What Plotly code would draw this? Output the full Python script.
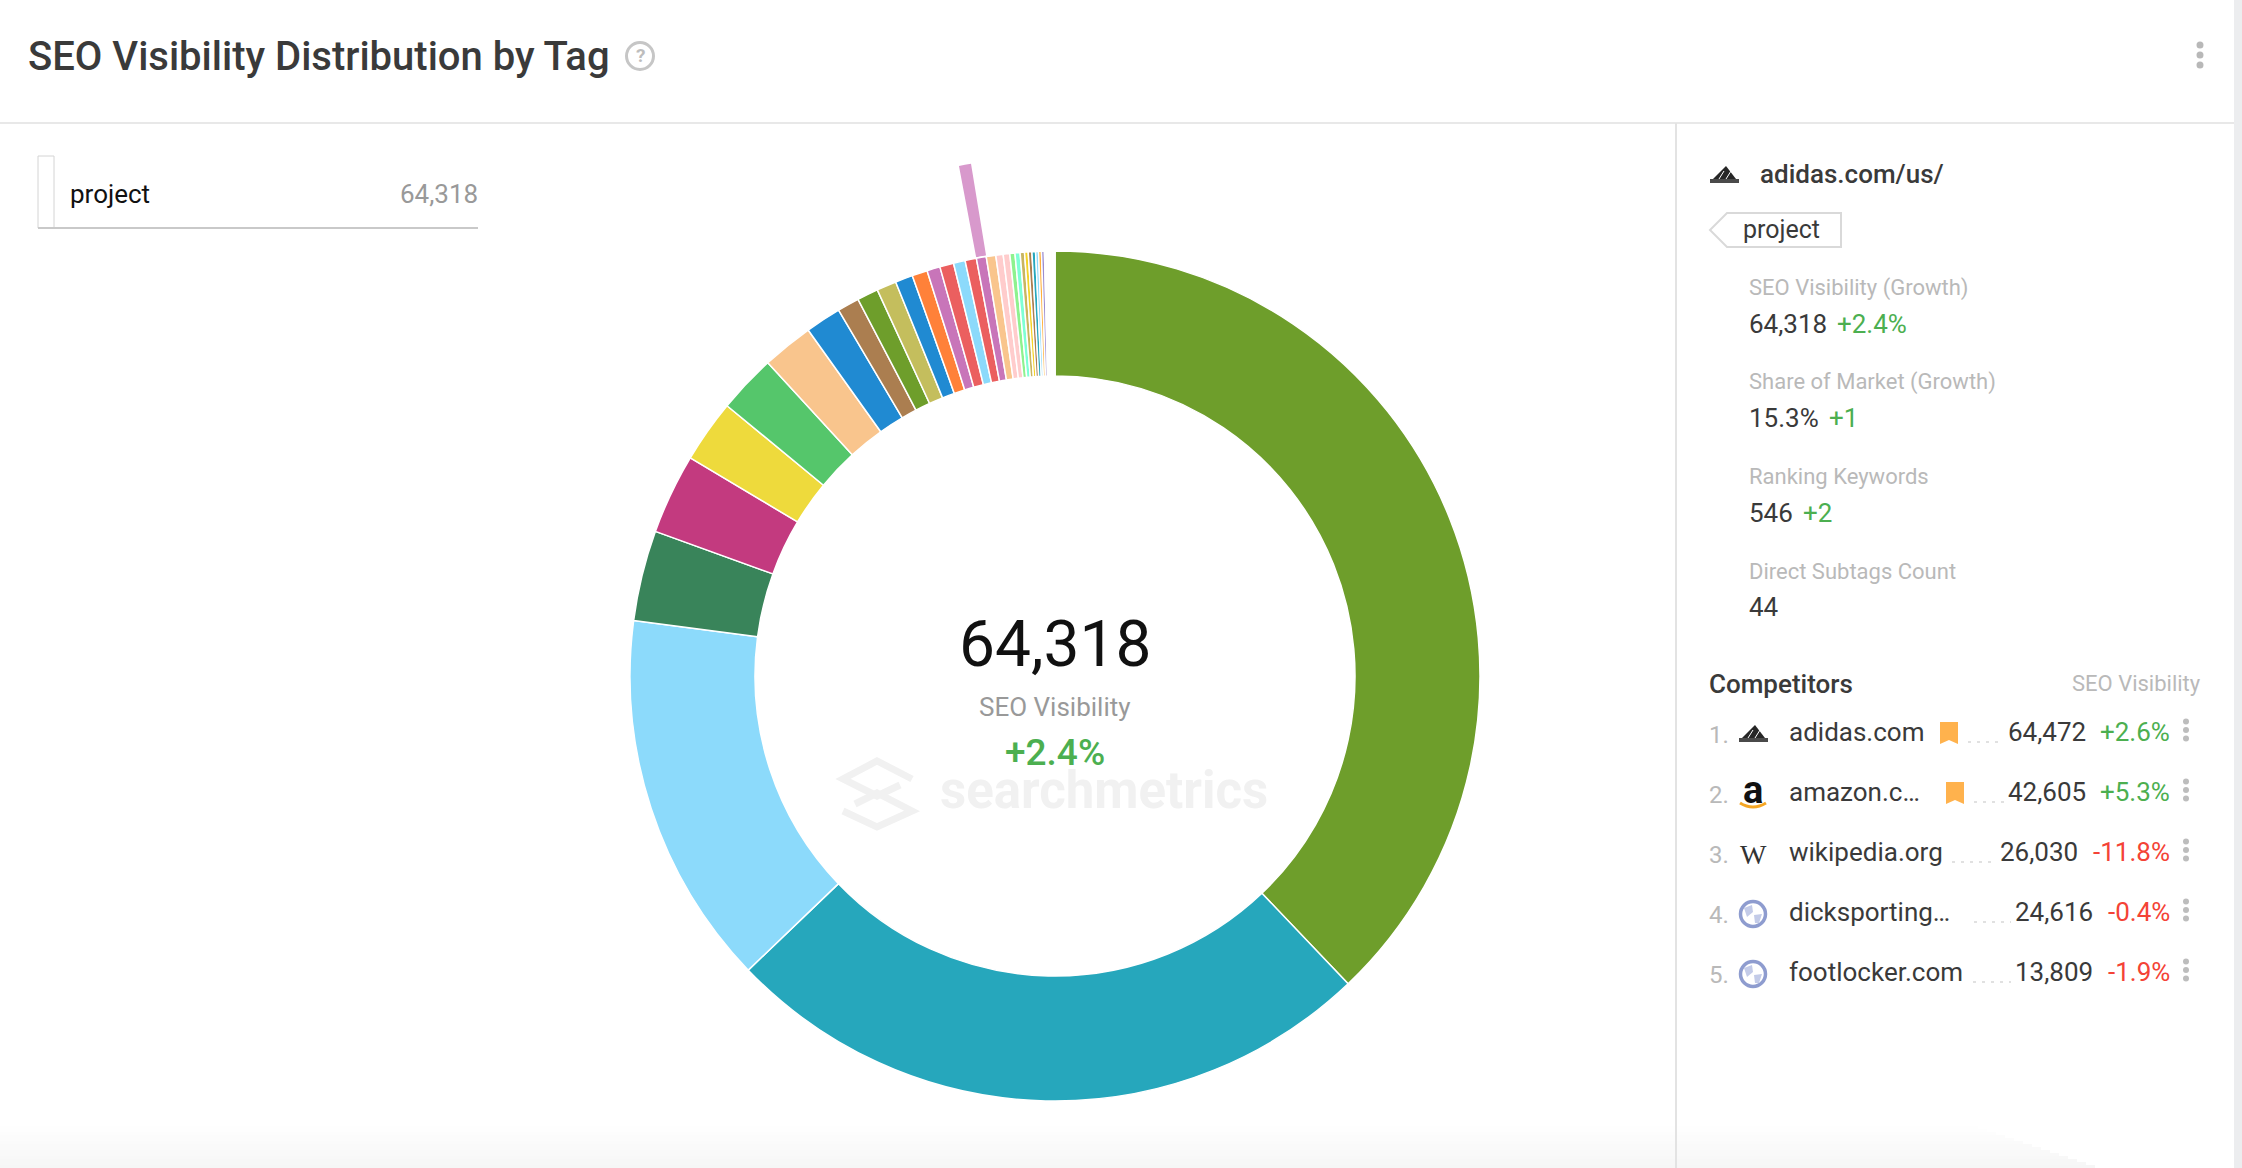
import plotly.graph_objects as go

W = 2242
H = 1168
# the figure runs a little past the window so the hover bar's pie fits its domain
FIG_H = 1200

# slices of the donut, clockwise from 12 o'clock
tag_values = [24369, 16044, 9165, 2215, 1965, 1536, 1429, 1251, 875, 536, 518, 482,
              429, 375, 322, 339, 286, 277, 241, 232, 179, 161, 125, 125, 107, 89,
              89, 89, 71, 71, 71, 36, 30, 28, 25, 22, 20, 18, 16, 15, 14, 12, 10, 9]
tag_colors = ["#6E9E2B", "#26A7BC", "#8CDAFB", "#39845A", "#C33A7F", "#EEDA3C",
              "#55C66B", "#F9C58D", "#208AD2", "#AB7E50", "#6E9E2B", "#C4BE5D",
              "#208AD2", "#FF8139", "#C875B9", "#EB5F5F", "#8CDAFB", "#EB5F5F",
              "#C875B9", "#F9C58D", "#FFCCCC", "#FFCCCC", "#8EF28E", "#7FFFD4",
              "#C8B560", "#F5D327", "#AB7E50", "#26A7BC", "#8CDAFB", "#FFB03B",
              "#9C8CCF", "#C4BE5D", "#EEDA3C", "#55C66B", "#F9C58D", "#208AD2",
              "#AB7E50", "#6E9E2B", "#FF8139", "#C875B9", "#EB5F5F", "#8CDAFB",
              "#FFCCCC", "#8EF28E"]
hover_index = 18
hover_color = "#D899CC"

stat_labels = ["SEO Visibility (Growth)", "Share of Market (Growth)", "Ranking Keywords", "Direct Subtags Count"]
stat_values = ["64,318", "15.3%", "546", "44"]
stat_growth = ["+2.4%", "+1", "+2", ""]

ranks = ["1.", "2.", "3.", "4.", "5."]
domains = ["adidas.com", "amazon.c…", "wikipedia.org", "dicksporting…", "footlocker.com"]
visibility = ["64,472", "42,605", "26,030", "24,616", "13,809"]
changes = ["+2.6%", "+5.3%", "-11.8%", "-0.4%", "-1.9%"]

DARK = "#3a3a3a"
GREY = "#b9b9b9"
GREEN = "#4caf50"
RED = "#f44336"
FONT = "Roboto"


def px(x):
    return x / W


def py(y):
    return 1 - y / FIG_H


def path(points, close=False):
    s = "M " + " L ".join(f"{px(x):.5f},{py(y):.5f}" for x, y in points)
    return s + (" Z" if close else "")


annotations = []
shapes = []


def text(x, y, s, size, color, anchor="left", weight=400, family=FONT):
    annotations.append(dict(x=px(x), y=py(y), xref="paper", yref="paper", text=s, showarrow=False,
                            xanchor=anchor, yanchor="middle", borderpad=0, borderwidth=0,
                            font=dict(family=family, size=size, color=color, weight=weight)))


def rect(x0, y0, x1, y1, fill, line=None, lw=0, layer="above"):
    shapes.append(dict(type="rect", xref="paper", yref="paper", x0=px(x0), x1=px(x1), y0=py(y1), y1=py(y0),
                       fillcolor=fill, line=dict(color=line or fill, width=lw), layer=layer))


def line(x0, y0, x1, y1, color, lw=2, dash="solid"):
    shapes.append(dict(type="line", xref="paper", yref="paper", x0=px(x0), x1=px(x1), y0=py(y0), y1=py(y1),
                       line=dict(color=color, width=lw, dash=dash)))


def poly(points, fill="rgba(0,0,0,0)", color=None, lw=0, close=True):
    shapes.append(dict(type="path", xref="paper", yref="paper", path=path(points, close),
                       fillcolor=fill, line=dict(color=color or fill, width=lw)))


def circle(cx, cy, r, fill, color=None, lw=0):
    shapes.append(dict(type="circle", xref="paper", yref="paper", x0=px(cx - r), x1=px(cx + r),
                       y0=py(cy + r), y1=py(cy - r), fillcolor=fill, line=dict(color=color or fill, width=lw)))


def kebab(x, y, r, gap, color):
    for d in (-gap, 0, gap):
        circle(x, y + d, r, color)


def adidas_logo(x, y):
    poly([(x + 3, y + 13), (x + 16, y), (x + 26, y + 13)], fill="#262626")
    line(x + 9, y + 13, x + 14, y + 5, "#ffffff", 1)
    line(x + 16, y + 13, x + 21, y + 5, "#ffffff", 1)
    line(x, y + 15, x + 29, y + 15, "#4a4a4a", 4)


def globe(cx, cy):
    circle(cx, cy, 12.5, "#ffffff", "#8e9ccf", 3.5)
    poly([(cx - 9, cy - 6), (cx - 1, cy - 9), (cx, cy - 2), (cx - 6, cy + 3)], fill="#c3cbe8")
    poly([(cx + 1, cy + 1), (cx + 9, cy), (cx + 6, cy + 9), (cx + 2, cy + 9)], fill="#c3cbe8")


# page furniture
for i in range(16):
    grey = 255 - i * 10 // 16
    rect(0, 1120 + i * 3, 1960 + i * 9, 1123 + i * 3, f"rgb({grey},{grey},{grey})", layer="below")
rect(2234, 0, W, FIG_H, "#ecedef", layer="below")
line(0, 123, 2234, 123, "#e8e8e8", 2)
line(1676, 123, 1676, FIG_H, "#e3e3e3", 2)

text(28, 57, "SEO Visibility Distribution by Tag", 40, DARK, weight=500)
circle(640, 56, 13.5, "#ffffff", "#c6c6c6", 3)
text(640, 56, "?", 19, "#bdbdbd", "center", 700)
kebab(2200, 55, 3.5, 10, "#b8b8b8")

# tag list on the left
rect(38, 156, 54, 228, "#ffffff", "#d4d4d4", 1)
line(38, 228, 478, 228, "#c9c9c9", 2)
text(70, 194, "project", 26, "#111111")
text(478, 194, "64,318", 26, "#999999", "right")

# centre of the donut
text(1055, 644, "64,318", 64, "#111111", "center")
text(1055, 707, "SEO Visibility", 26, "#999999", "center")
text(1055, 753, "+2.4%", 37, GREEN, "center", 500)
text(940, 790, "searchmetrics", 51, "#f1f1f1", weight=700)
poly([(912, 779), (877, 761), (843, 779), (877, 796), (900, 785)], color="#f1f1f1", lw=7, close=False)
poly([(843, 811), (877, 827), (912, 811), (877, 793), (855, 804)], color="#f1f1f1", lw=7, close=False)

# right panel
adidas_logo(1710, 166)
text(1760, 174, "adidas.com/us/", 26, DARK, weight=500)
poly([(1727, 213), (1841, 213), (1841, 247), (1727, 247), (1710, 230)], fill="#ffffff", color="#d9d9d9", lw=2)
text(1743, 230, "project", 25, DARK)

stat_y = [288, 382, 477, 571]
growth_x = [1837, 1829, 1803, 0]
for i in range(len(stat_labels)):
    y = stat_y[i]
    text(1749, y, stat_labels[i], 22, GREY)
    text(1749, y + 36, stat_values[i], 26, DARK)
    if stat_growth[i]:
        text(growth_x[i], y + 36, stat_growth[i], 26, GREEN)

text(1709, 684, "Competitors", 26, DARK, weight=500)
text(2201, 684, "SEO Visibility", 22, GREY, "right")

value_right = [2086, 2086, 2078, 2093, 2093]
bookmark_left = [1940, 1946, None, None, None]
dots_from = [1968, 1974, 1952, 1974, 1973]
dots_to = [2004, 2004, 1997, 2011, 2011]
for i in range(len(domains)):
    y = 733 + i * 60
    change_color = GREEN if changes[i].startswith("+") else RED
    text(1709, y + 2, ranks[i], 24, GREY)
    text(1789, y - 1, domains[i], 26, DARK)
    text(value_right[i], y - 1, visibility[i], 26, DARK, "right")
    text(2170, y - 1, changes[i], 26, change_color, "right")
    line(dots_from[i], y + 9, dots_to[i], y + 9, "#d8d8d8", 1.5, "3px,6px")
    kebab(2186, y - 3, 3, 8.5, "#bdbdbd")
    if bookmark_left[i]:
        b = bookmark_left[i]
        poly([(b, y - 11), (b + 18, y - 11), (b + 18, y + 11), (b + 9, y + 7), (b, y + 11)], fill="#ffb24d")

adidas_logo(1739, 725)
text(1753, 790, "a", 38, "#111111", "center", 700)
shapes.append(dict(type="path", xref="paper", yref="paper", line=dict(color="#f5a623", width=3),
                   path=f"M {px(1740)},{py(803)} Q {px(1753)},{py(811)} {px(1766)},{py(803)}"))
text(1753, 854, "W", 28, "#333333", "center", family="Liberation Serif")
globe(1753, 914)
globe(1753, 974)

fig = go.Figure()

# the hovered slice shows as a thin bar outside the ring
fig.add_trace(go.Pie(
    values=tag_values,
    sort=False,
    direction="clockwise",
    rotation=0,
    hole=426 / 519,
    domain=dict(x=[px(1055 - 519), px(1055 + 519)], y=[py(676 + 519), py(676 - 519)]),
    marker=dict(colors=[hover_color if i == hover_index else "rgba(0,0,0,0)" for i in range(len(tag_values))],
                line=dict(width=0)),
    textinfo="none",
    hoverinfo="skip",
    showlegend=False,
))

fig.add_trace(go.Pie(
    values=tag_values,
    sort=False,
    direction="clockwise",
    rotation=0,
    hole=300 / 425,
    domain=dict(x=[px(1055 - 425), px(1055 + 425)], y=[py(676 + 425), py(676 - 425)]),
    marker=dict(colors=tag_colors, line=dict(color="#ffffff", width=1.5)),
    textinfo="none",
    hoverinfo="label+value",
    showlegend=False,
))

fig.update_layout(
    width=W,
    height=FIG_H,
    margin=dict(l=0, r=0, t=0, b=0),
    paper_bgcolor="#ffffff",
    plot_bgcolor="#ffffff",
    font=dict(family=FONT),
    shapes=shapes,
    annotations=annotations,
)

fig.write_html("out.html", config=dict(displayModeBar=False),
               post_script="document.body.style.margin='0';document.documentElement.style.overflow='hidden';")
